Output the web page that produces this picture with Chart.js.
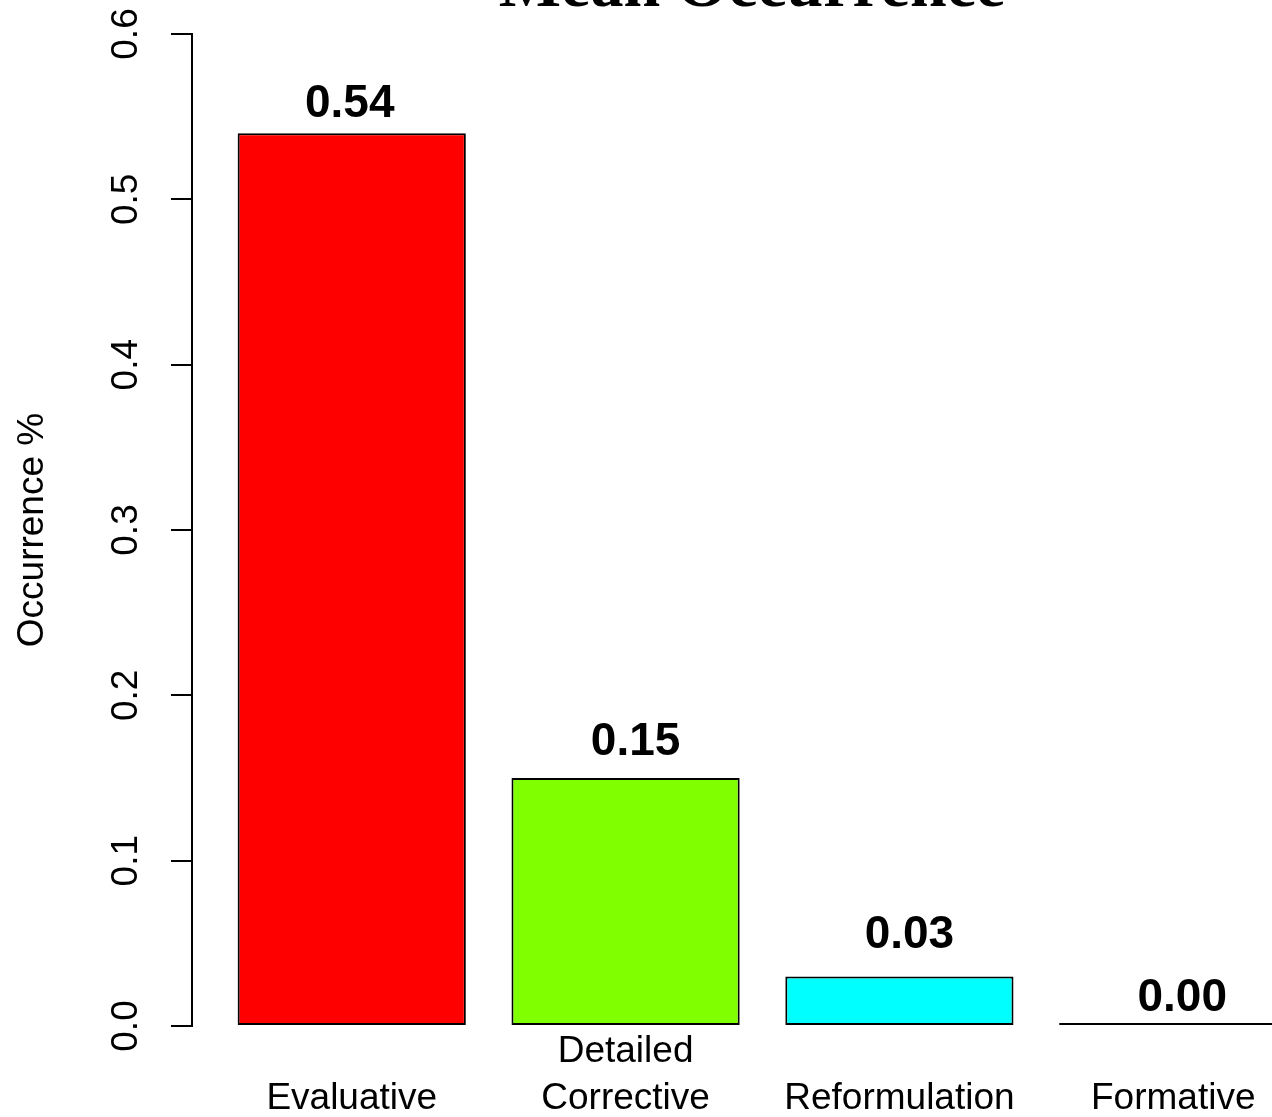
<!DOCTYPE html>
<html>
<head>
<meta charset="utf-8">
<title>Mean Occurrence</title>
<script src="https://cdn.jsdelivr.net/npm/chart.js@4.4.1/dist/chart.umd.min.js"></script>
<style>
	html, body { margin: 0; padding: 0; background: #fff; overflow: hidden; }
	#wrap { width: 1272px; height: 1117px; overflow: hidden; }
</style>
</head>
<body>
<div id="wrap"><canvas id="chart" width="1333" height="1117"></canvas></div>
<script>
var categories = ['Evaluative', ['Detailed', 'Corrective'], 'Reformulation', 'Formative'];
var occurrence = [0.54, 0.15, 0.03, 0.00];
var barColors = ['#FF0000', '#80FF00', '#00FFFF', '#8000FF'];
var yTicks = [0.0, 0.1, 0.2, 0.3, 0.4, 0.5, 0.6];

// barplot spacing: bars one unit wide with a 0.2 gap before each
var barMids = occurrence.map(function(v, i) { return 0.7 + 1.2 * i; });
// per label nudge in px: [dx, gap above bar top]
var labelShift = [[-2, 16], [10, 23], [10, 28], [9, 12]];

var sans = '"Liberation Sans", Arial, sans-serif';
Chart.defaults.font.family = sans;
Chart.defaults.color = '#000';

var valueLabels = {
	id: 'valueLabels',
	afterDatasetsDraw: function(chart) {
		var ctx = chart.ctx;
		var meta = chart.getDatasetMeta(0);
		ctx.save();
		ctx.font = 'bold 46px ' + sans;
		ctx.fillStyle = '#000';
		ctx.textAlign = 'center';
		ctx.textBaseline = 'alphabetic';
		meta.data.forEach(function(bar, i) {
			ctx.fillText(occurrence[i].toFixed(2), bar.x + labelShift[i][0], bar.y - labelShift[i][1]);
		});
		ctx.restore();
	}
};

var plotTitle = {
	id: 'plotTitle',
	afterDraw: function(chart) {
		var ctx = chart.ctx;
		ctx.save();
		ctx.font = 'bold 66px "Liberation Serif", "Times New Roman", serif';
		ctx.fillStyle = '#000';
		ctx.textAlign = 'center';
		ctx.textBaseline = 'alphabetic';
		ctx.fillText('Mean Occurrence', 752, 6);
		ctx.restore();
	}
};

var ctx = document.getElementById('chart').getContext('2d');
var chart = new Chart(ctx, {
	type: 'bar',
	data: {
		datasets: [{
			data: occurrence.map(function(v, i) { return { x: barMids[i], y: v }; }),
			backgroundColor: barColors,
			borderColor: '#000',
			borderWidth: 2,
			borderSkipped: false,
			minBarLength: 3,
			categoryPercentage: 1,
			barPercentage: 1 / 1.2,
			clip: false
		}]
	},
	options: {
		responsive: false,
		animation: false,
		layout: { padding: { top: 34, right: 0, bottom: 0, left: 0 } },
		plugins: {
			legend: { display: false },
			tooltip: { enabled: false }
		},
		scales: {
			x: {
				type: 'linear',
				min: 0,
				max: 5,
				offset: false,
				grid: { display: false },
				border: { display: false },
				ticks: {
					autoSkip: false,
					maxRotation: 0,
					crossAlign: 'far',
					padding: 18,
					font: { size: 37, lineHeight: 1.27 },
					color: '#000',
					callback: function(value, index) { return categories[index]; }
				},
				afterBuildTicks: function(scale) {
					scale.ticks = barMids.map(function(v) { return { value: v }; });
				},
				afterFit: function(scale) {
					scale.height = 91;
					scale.paddingLeft = 0;
					scale.paddingRight = 0;
				}
			},
			y: {
				min: 0,
				max: 0.6,
				grid: {
					drawOnChartArea: false,
					color: '#000',
					lineWidth: 2,
					tickLength: 21
				},
				border: { display: true, color: '#000', width: 2 },
				ticks: {
					minRotation: 90,
					maxRotation: 90,
					crossAlign: 'center',
					padding: 18,
					font: { size: 37 },
					color: '#000',
					callback: function(value) { return value.toFixed(1); }
				},
				title: {
					display: true,
					text: 'Occurrence %',
					font: { size: 37, lineHeight: 1.2 },
					color: '#000',
					padding: { top: 11, bottom: 0 }
				},
				afterBuildTicks: function(scale) {
					scale.ticks = yTicks.map(function(v) { return { value: v }; });
				},
				afterFit: function(scale) {
					scale.width = 192;
					scale.paddingTop = 0;
					scale.paddingBottom = 0;
				}
			}
		}
	},
	plugins: [valueLabels, plotTitle]
});
</script>
</body>
</html>
